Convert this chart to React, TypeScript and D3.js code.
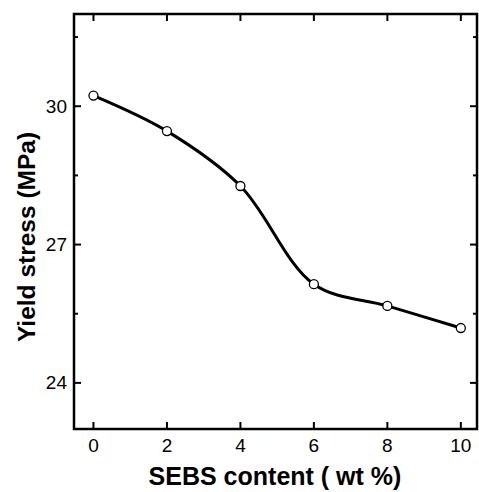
import React from "react";
import * as d3 from "d3";

const sebsContent = [0, 2, 4, 6, 8, 10];
const yieldStress = [30.23, 29.46, 28.27, 26.14, 25.67, 25.19];
const xTicks = [0, 2, 4, 6, 8, 10];
const yTicks = [24, 27, 30];
const yMinorTicks = [25.5, 28.5, 31.5];

const W = 479;
const H = 492;
const L = 74, R = 477, T = 14, B = 429;

export default function App() {
  const x = d3.scaleLinear().domain([-0.53, 10.44]).range([L, R]);
  const y = d3.scaleLinear().domain([23, 32]).range([B, T]);
  const pts = sebsContent.map((v, i) => [v, yieldStress[i]] as [number, number]);
  const line = d3
    .line<[number, number]>()
    .x((d) => x(d[0]))
    .y((d) => y(d[1]))
    .curve(d3.curveCatmullRom.alpha(0.5));
  const font = "'Liberation Sans', Arial, sans-serif";
  return (
    <svg
      width={W}
      height={H}
      style={{ position: "absolute", left: 0, top: 0, background: "#fff" }}
    >
      <path d={line(pts) || ""} fill="none" stroke="#000" strokeWidth={3} />
      {pts.map((d, i) => (
        <circle key={i} cx={x(d[0])} cy={y(d[1])} r={4.5} fill="#fff" stroke="#000" strokeWidth={1.3} />
      ))}
      {xTicks.map((t) => (
        <g key={"x" + t}>
          <line x1={x(t)} x2={x(t)} y1={B} y2={B - 7} stroke="#000" strokeWidth={2} />
          <line x1={x(t)} x2={x(t)} y1={T} y2={T + 7} stroke="#000" strokeWidth={2} />
          <text x={x(t)} y={452} textAnchor="middle" fontFamily={font} fontSize={19}>
            {t}
          </text>
        </g>
      ))}
      {yTicks.map((t) => (
        <g key={"y" + t}>
          <line x1={L} x2={L + 7} y1={y(t)} y2={y(t)} stroke="#000" strokeWidth={2} />
          <line x1={R} x2={R - 7} y1={y(t)} y2={y(t)} stroke="#000" strokeWidth={2} />
          <text x={67} y={y(t) + 6.5} textAnchor="end" fontFamily={font} fontSize={19}>
            {t}
          </text>
        </g>
      ))}
      {yMinorTicks.map((t) => (
        <g key={"ym" + t}>
          <line x1={L} x2={L + 4} y1={y(t)} y2={y(t)} stroke="#000" strokeWidth={2} />
          <line x1={R} x2={R - 4} y1={y(t)} y2={y(t)} stroke="#000" strokeWidth={2} />
        </g>
      ))}
      <rect x={L} y={T} width={R - L} height={B - T} fill="none" stroke="#000" strokeWidth={2.5} />
      <text x={275} y={485} textAnchor="middle" fontFamily={font} fontSize={25} fontWeight="bold">
        SEBS content ( wt %)
      </text>
      <text
        transform={`translate(35, ${237}) rotate(-90)`}
        textAnchor="middle"
        fontFamily={font}
        fontSize={24.5}
        fontWeight="bold"
      >
        Yield stress (MPa)
      </text>
    </svg>
  );
}
